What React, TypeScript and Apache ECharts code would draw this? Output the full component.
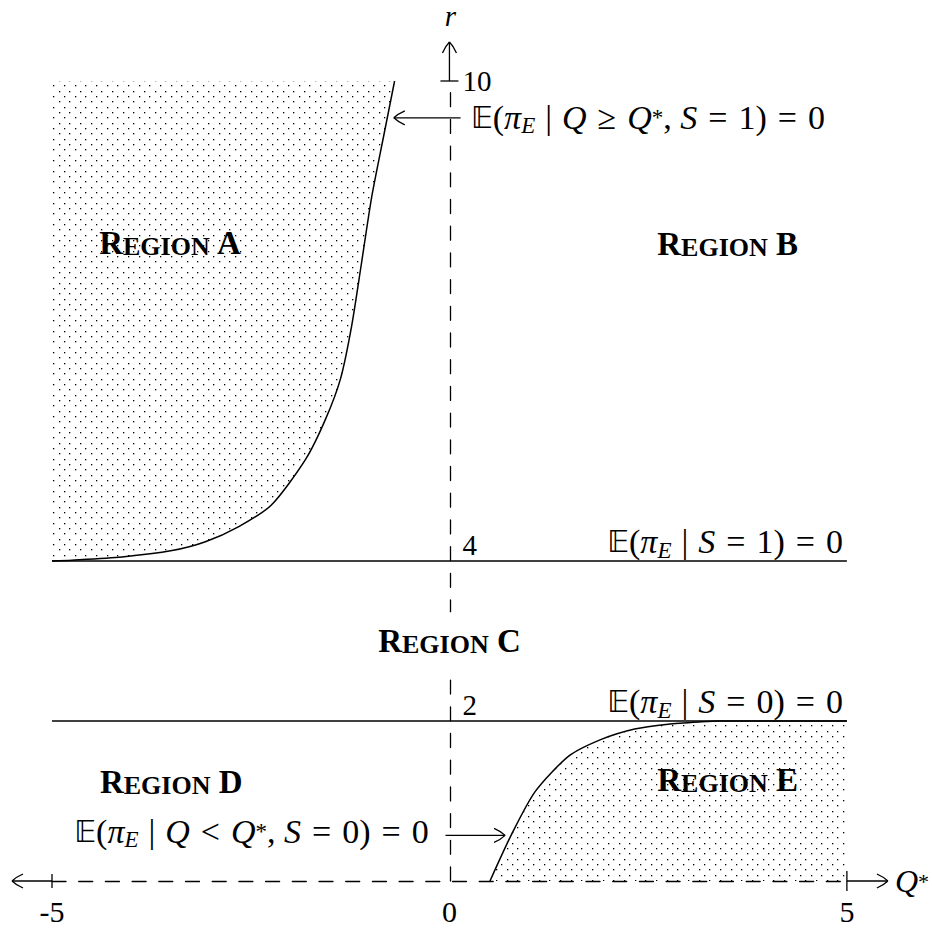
import React, { useEffect, useRef } from "react";
import * as echarts from "echarts";

// Q* axis and r axis extents
const qRange = [-5, 5];
const rRange = [0, 10];
const qTickLabels = [-5, 0, 5];
const rTickLabels = [2, 4, 10];

// Upper boundary: E(π_E | Q ≥ Q*, S = 1) = 0
const curveAQ = [-5, -4.75, -4.12, -3.49, -3.07, -2.65, -2.24, -1.81, -1.56, -1.37, -1.23, -1.11, -0.98, -0.83, -0.69];
const curveAR = [4.0, 4.01, 4.05, 4.13, 4.24, 4.43, 4.7, 5.27, 5.77, 6.28, 6.94, 7.7, 8.54, 9.3, 10.0];

// Lower boundary: E(π_E | Q < Q*, S = 0) = 0
const curveEQ = [0.51, 0.78, 1.08, 1.5, 1.91, 2.33, 2.75, 3.17, 3.4, 5.0];
const curveER = [0.0, 0.58, 1.12, 1.56, 1.77, 1.9, 1.96, 1.99, 2.0, 2.0];

// Horizontal thresholds E(π_E | S = 1) = 0 and E(π_E | S = 0) = 0
const thresholdS1 = 4;
const thresholdS0 = 2;

// Region names and where they sit (Q*, r)
const regionNames = ["A", "B", "C", "D", "E"];
const regionQ = [-3.51, 3.5, 0.0, -3.5, 3.5];
const regionR = [7.97, 7.96, 2.99, 1.24, 1.26];

// Condition labels (rich text) and their anchors
const formulaTexts = [
  "{bb|𝔼}{m|(}{i|π}{sub|E}{mid||}{i|Q}{rel|≥}{i|Q}{sup|*}{m|, }{i|S}{rel|=}{m|1)}{rel|=}{m|0}",
  "{bb|𝔼}{m|(}{i|π}{sub|E}{mid||}{i|S}{rel|=}{m|1)}{rel|=}{m|0}",
  "{bb|𝔼}{m|(}{i|π}{sub|E}{mid||}{i|S}{rel|=}{m|0)}{rel|=}{m|0}",
  "{bb|𝔼}{m|(}{i|π}{sub|E}{mid||}{i|Q}{rel|<}{i|Q}{sup|*}{m|, }{i|S}{rel|=}{m|0)}{rel|=}{m|0}",
];
const formulaQ = [0.27, 4.95, 4.95, -0.26];
const formulaR = [9.55, 4.24, 2.24, 0.62];
const formulaAlign = ["left", "right", "right", "right"];

// Pointer arrows from the labels to the boundary curves
const arrowFromQ = [0.14, -0.05];
const arrowFromR = [9.54, 0.57];
const arrowToQ = [-0.7, 0.7];
const arrowToR = [9.54, 0.57];

const SERIF = "'Liberation Serif', 'Times New Roman', serif";
const INK = "#000";

function dotPattern() {
  const c = document.createElement("canvas");
  c.width = 32;
  c.height = 32;
  const g = c.getContext("2d")!;
  g.fillStyle = "#000";
  const rows = [0, 5, 11, 16, 21, 27];
  rows.forEach((y, k) => {
    const xs = k % 2 === 0 ? [0, 11, 21] : [5, 16, 27];
    xs.forEach((x) => g.fillRect(x, y, 1.3, 1.3));
  });
  return { image: c, repeat: "repeat", imageWidth: 32, imageHeight: 32 } as any;
}

const MATH = 34;
const mathRich = {
  bb: { fontFamily: "'DejaVu Sans', sans-serif", fontSize: 30, lineHeight: 40, color: INK },
  m: { fontFamily: SERIF, fontSize: MATH, lineHeight: 40, color: INK },
  i: { fontFamily: SERIF, fontStyle: "italic", fontSize: MATH, lineHeight: 40, color: INK },
  sub: { fontFamily: SERIF, fontStyle: "italic", fontSize: 23, lineHeight: 23, verticalAlign: "bottom", color: INK },
  sup: { fontFamily: SERIF, fontSize: 23, lineHeight: 40, color: INK },
  rel: { fontFamily: SERIF, fontSize: MATH, lineHeight: 40, padding: [0, 11, 0, 11], color: INK },
  mid: { fontFamily: SERIF, fontSize: MATH, lineHeight: 40, padding: [0, 10, 0, 10], color: INK },
};

const regionRich = {
  cap: { fontFamily: SERIF, fontWeight: "bold", fontSize: 33, lineHeight: 33, verticalAlign: "bottom", color: INK },
  sc: { fontFamily: SERIF, fontWeight: "bold", fontSize: 26, lineHeight: 28.4, verticalAlign: "bottom", color: INK },
};

export default function App() {
  const ref = useRef<HTMLDivElement>(null);

  useEffect(() => {
    const chart = echarts.init(ref.current!, null, { renderer: "svg" });
    const dots = dotPattern();

    const stroke = { stroke: INK, lineWidth: 1.3, fill: null as any };
    const seg = (a: number[], b: number[]) => ({
      type: "line",
      shape: { x1: a[0], y1: a[1], x2: b[0], y2: b[1] },
      style: stroke,
    });
    const head = (tail: number[], tip: number[]) => {
      const dx = tip[0] - tail[0];
      const dy = tip[1] - tail[1];
      const len = Math.hypot(dx, dy) || 1;
      const ux = dx / len;
      const uy = dy / len;
      const px = -uy;
      const py = ux;
      const L = 11;
      const W = 7;
      const barb = (s: number) => ({
        type: "bezierCurve",
        shape: {
          x1: tip[0] - ux * L + px * W * s,
          y1: tip[1] - uy * L + py * W * s,
          cpx1: tip[0] - ux * L * 0.35 + px * W * s * 0.55,
          cpy1: tip[1] - uy * L * 0.35 + py * W * s * 0.55,
          x2: tip[0],
          y2: tip[1],
        },
        style: stroke,
      });
      return [barb(1), barb(-1)];
    };

    const gridLeft = 52;
    const gridRight = 83;
    const plotWidth = 932 - gridLeft - gridRight;
    // the r axis sits where Q* = 0
    const rAxisOffset = -plotWidth * ((0 - qRange[0]) / (qRange[1] - qRange[0]));

    const labelSeries = {
      type: "scatter",
      silent: true,
      symbolSize: 0,
      itemStyle: { color: INK, opacity: 1 },
      z: 6,
    };

    const option: any = {
      animation: false,
      backgroundColor: "#fff",
      grid: { left: gridLeft, right: gridRight, top: 81, bottom: 47 },
      xAxis: {
        type: "value",
        min: qRange[0],
        max: qRange[1],
        interval: 5,
        axisLine: {
          show: true,
          onZero: true,
          lineStyle: { color: INK, width: 1.3, type: [14, 12.7] },
        },
        axisTick: { show: false },
        splitLine: { show: false },
        axisLabel: {
          customValues: qTickLabels,
          margin: 15,
          fontFamily: SERIF,
          fontSize: 30,
          color: INK,
        },
        name: "{i|Q}{sup|*}",
        nameLocation: "end",
        nameGap: 48,
        nameTextStyle: {
          verticalAlign: "middle",
          rich: {
            i: { fontFamily: SERIF, fontStyle: "italic", fontSize: 32, lineHeight: 38, color: INK },
            sup: { fontFamily: SERIF, fontSize: 22, lineHeight: 38, color: INK },
          },
        },
      },
      yAxis: {
        type: "value",
        min: rRange[0],
        max: rRange[1],
        interval: 1,
        position: "left",
        offset: rAxisOffset,
        axisLine: {
          show: true,
          onZero: false,
          lineStyle: { color: INK, width: 1.3, type: [14, 12.7] },
        },
        axisTick: { show: false },
        splitLine: { show: false },
        axisLabel: {
          inside: true,
          customValues: rTickLabels,
          margin: 12,
          formatter: (v: number) => (v === rRange[1] ? `{top|${v}}` : `{low|${v}}`),
          rich: {
            top: { fontFamily: SERIF, fontSize: 29, color: INK },
            low: { fontFamily: SERIF, fontSize: 29, color: INK, padding: [0, 0, 33, 0] },
          },
        },
        name: "r",
        nameLocation: "end",
        nameGap: 54,
        nameTextStyle: { fontFamily: SERIF, fontStyle: "italic", fontSize: 29, lineHeight: 22, color: INK },
      },
      series: [
        {
          type: "line",
          name: "regionA",
          data: curveAQ.map((q, i) => [q, curveAR[i]]),
          symbol: "none",
          silent: true,
          smooth: 0.25,
          lineStyle: { color: INK, width: 1.5 },
          areaStyle: { origin: "end", color: dots, opacity: 1 },
          z: 3,
        },
        {
          type: "line",
          name: "regionE",
          data: curveEQ.map((q, i) => [q, curveER[i]]),
          symbol: "none",
          silent: true,
          smooth: 0.25,
          lineStyle: { color: INK, width: 1.5 },
          areaStyle: { origin: "start", color: dots, opacity: 1 },
          z: 3,
        },
        {
          type: "line",
          name: "S1",
          data: qRange.map((q) => [q, thresholdS1]),
          symbol: "none",
          silent: true,
          lineStyle: { color: INK, width: 1.3 },
          z: 4,
        },
        {
          type: "line",
          name: "S0",
          data: qRange.map((q) => [q, thresholdS0]),
          symbol: "none",
          silent: true,
          lineStyle: { color: INK, width: 1.3 },
          z: 4,
        },
        {
          type: "custom",
          name: "arrows",
          silent: true,
          clip: false,
          data: [[0, 0]],
          z: 5,
          renderItem: (_p: any, api: any) => {
            const P = (q: number, r: number) => api.coord([q, r]);
            const children: any[] = [];
            // left end of the Q* axis
            const a = P(qRange[0], rRange[0]);
            const aTip = [a[0] - 40, a[1]];
            children.push(seg(a, aTip), ...head(a, aTip), seg([a[0], a[1] - 7], [a[0], a[1] + 7]));
            // right end of the Q* axis
            const b = P(qRange[1], rRange[0]);
            const bTip = [b[0] + 41, b[1]];
            children.push(seg(b, bTip), ...head(b, bTip), seg([b[0], b[1] - 10], [b[0], b[1] + 10]));
            // top of the r axis
            const c = P(0, rRange[1]);
            const cTip = [c[0], c[1] - 39];
            children.push(seg(c, cTip), ...head(c, cTip), seg([c[0] - 9, c[1]], [c[0] + 9, c[1]]));
            // pointers to the boundary curves
            arrowFromQ.forEach((q, i) => {
              const s = P(q, arrowFromR[i]);
              const t = P(arrowToQ[i], arrowToR[i]);
              children.push(seg(s, t), ...head(s, t));
            });
            return { type: "group", children };
          },
        },
        {
          ...labelSeries,
          name: "regions",
          data: regionNames.map((n, i) =>
            n === "C"
              ? {
                  value: [regionQ[i], regionR[i]],
                  label: { backgroundColor: "#fff", padding: [12, 6, 14, 6] },
                }
              : { value: [regionQ[i], regionR[i]] }
          ),
          label: {
            show: true,
            position: "inside",
            color: INK,
            opacity: 1,
            textBorderWidth: 0,
            formatter: (p: any) => `{cap|R}{sc|EGION}{cap| ${regionNames[p.dataIndex]}}`,
            rich: regionRich,
          },
        },
        {
          ...labelSeries,
          name: "conditions",
          data: formulaTexts.map((_t, i) => ({
            value: [formulaQ[i], formulaR[i]],
            label: { align: formulaAlign[i] },
          })),
          label: {
            show: true,
            position: "inside",
            color: INK,
            opacity: 1,
            textBorderWidth: 0,
            formatter: (p: any) => formulaTexts[p.dataIndex],
            rich: mathRich,
          },
        },
      ],
    };

    chart.setOption(option);
    return () => chart.dispose();
  }, []);

  return (
    <div
      ref={ref}
      style={{ position: "fixed", left: 0, top: 0, width: 932, height: 928, background: "#fff" }}
    />
  );
}
